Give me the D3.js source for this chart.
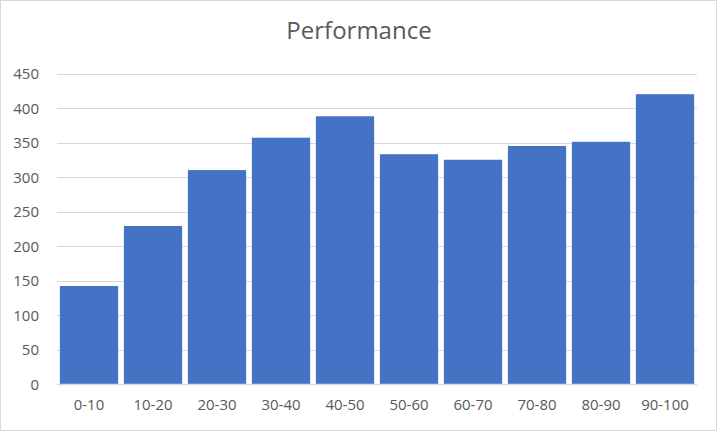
<!DOCTYPE html>
<html>
<head>
<meta charset="utf-8">
<script src="https://cdn.jsdelivr.net/npm/d3@7"></script>
<style>
  body { margin: 0; background: #fff; }
</style>
</head>
<body>
<div id="chart"></div>
<script>
// data
let categorias = ["0-10", "10-20", "20-30", "30-40", "40-50",
                  "50-60", "60-70", "70-80", "80-90", "90-100"];
let valores = [142, 229, 310, 357, 388, 333, 325, 345, 351, 420];
let ticksY = [0, 50, 100, 150, 200, 250, 300, 350, 400, 450];

let larg = 720;
let alt = 432;
let margem = {top: 73.5, right: 23, bottom: 48, left: 57};

let canvas = d3.select("#chart")
                .append("svg")
                .attr("width", larg)
                .attr("height", alt);

// moldura do grafico
canvas.append("rect")
        .attr("x", 0.5)
        .attr("y", 0.5)
        .attr("width", larg - 4)
        .attr("height", alt - 2)
        .attr("fill", "white")
        .attr("stroke", "#d9d9d9")
        .attr("stroke-width", 1);

var escalaX = d3.scaleBand()
                .domain(categorias)
                .range([margem.left, larg - margem.right])
                .paddingInner(0.09)
                .paddingOuter(0.045);

var escalaY = d3.scaleLinear()
                .domain([0, 450])
                .range([alt - margem.bottom, margem.top]);

// linhas de grade (alinhadas ao pixel)
canvas.append("g")
        .selectAll("line")
        .data(ticksY.slice(1))
        .enter()
            .append("line")
            .attr("x1", margem.left)
            .attr("x2", larg - margem.right)
            .attr("y1", d => Math.round(escalaY(d)) + 0.5)
            .attr("y2", d => Math.round(escalaY(d)) + 0.5)
            .attr("stroke", "#d9d9d9")
            .attr("stroke-width", 1);

var barras = canvas.selectAll(".barra")
                .data(valores)
                .enter()
                    .append("rect")
                    .attr("class", "barra")
                    .attr("x", (d, i) => escalaX(categorias[i]))
                    .attr("width", escalaX.bandwidth())
                    .attr("y", d => escalaY(d))
                    .attr("height", d => escalaY(0) - escalaY(d))
                    .attr("fill", "#4472c4");

// eixo Y (so os rotulos)
let eixoY = d3.axisLeft(escalaY)
                .tickValues(ticksY)
                .tickSize(0)
                .tickPadding(0);

canvas.append("g")
        .attr("transform", "translate(39,0)")
        .style("font", "15px 'Open Sans', sans-serif")
        .call(eixoY)
        .call(g => g.select(".domain").remove())
        .selectAll("text")
            .attr("fill", "#595959")
            .attr("dy", "0.36em");

// eixo X
let eixoX = d3.axisBottom(escalaX)
                .tickSize(0)
                .tickPadding(15);

canvas.append("g")
        .attr("transform", "translate(0," + escalaY(0) + ")")
        .style("font", "15px 'Open Sans', sans-serif")
        .call(eixoX)
        .call(g => g.select(".domain").remove())
        .selectAll("text")
            .attr("fill", "#595959");

canvas.append("line")
        .attr("x1", margem.left)
        .attr("x2", larg - margem.right)
        .attr("y1", escalaY(0) + 0.5)
        .attr("y2", escalaY(0) + 0.5)
        .attr("stroke", "#d9d9d9")
        .attr("stroke-width", 1.5);

// titulo
canvas.append("text")
        .attr("x", 359)
        .attr("y", 39)
        .attr("text-anchor", "middle")
        .style("font", "24px 'Open Sans', sans-serif")
        .attr("fill", "#595959")
        .text("Performance");
</script>
</body>
</html>
